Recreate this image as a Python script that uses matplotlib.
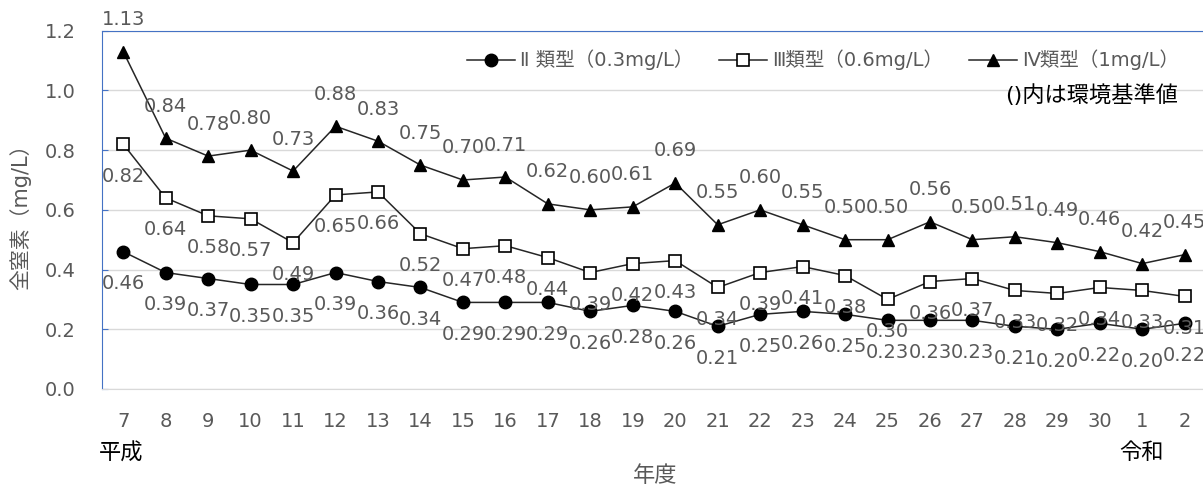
import matplotlib
matplotlib.use("Agg")
import matplotlib.pyplot as plt

# 年度 (平成7 ～ 令和2)
years = ["7", "8", "9", "10", "11", "12", "13", "14", "15", "16", "17", "18", "19",
         "20", "21", "22", "23", "24", "25", "26", "27", "28", "29", "30", "1", "2"]

# 全窒素 (mg/L)
type2 = [0.46, 0.39, 0.37, 0.35, 0.35, 0.39, 0.36, 0.34, 0.29, 0.29, 0.29, 0.26, 0.28,
         0.26, 0.21, 0.25, 0.26, 0.25, 0.23, 0.23, 0.23, 0.21, 0.20, 0.22, 0.20, 0.22]
type3 = [0.82, 0.64, 0.58, 0.57, 0.49, 0.65, 0.66, 0.52, 0.47, 0.48, 0.44, 0.39, 0.42,
         0.43, 0.34, 0.39, 0.41, 0.38, 0.30, 0.36, 0.37, 0.33, 0.32, 0.34, 0.33, 0.31]
type4 = [1.13, 0.84, 0.78, 0.80, 0.73, 0.88, 0.83, 0.75, 0.70, 0.71, 0.62, 0.60, 0.61,
         0.69, 0.55, 0.60, 0.55, 0.50, 0.50, 0.56, 0.50, 0.51, 0.49, 0.46, 0.42, 0.45]

names = ["Ⅱ 類型（0.3mg/L）", "Ⅲ類型（0.6mg/L）", "Ⅳ類型（1mg/L）"]
yticks = [0.0, 0.2, 0.4, 0.6, 0.8, 1.0, 1.2]

plt.rcParams['font.family'] = ['DejaVu Sans', 'Noto Sans CJK JP']

W, H = 1203, 490
fig = plt.figure(figsize=(W / 100, H / 100), dpi=100)
ax = fig.add_axes([102 / W, 1 - 389 / H, (1206 - 102) / W, (389 - 30.7) / H])

gray = "#595959"
blue = "#4472C4"
x = list(range(len(years)))

l2, = ax.plot(x, type2, color="#262626", lw=1.1, marker="o", ms=9,
              mfc="black", mec="black", zorder=3)
l3, = ax.plot(x, type3, color="#262626", lw=1.1, marker="s", ms=8,
              mfc="white", mec="black", mew=1.2, zorder=3)
l4, = ax.plot(x, type4, color="#262626", lw=1.1, marker="^", ms=9,
              mfc="black", mec="black", zorder=3)

# data labels: Ⅳ above, Ⅱ and Ⅲ below
for vals, dy in [(type2, -32), (type3, -32), (type4, 32)]:
    for i, v in enumerate(vals):
        ax.annotate(f"{v:.2f}", (i, v), xytext=(0, dy), textcoords="offset pixels",
                    ha="center", va="center", fontsize=14, color=gray,
                    annotation_clip=False)

ax.set_xlim(-0.5, len(years) - 0.5)
ax.set_ylim(0, 1.2)
ax.set_xticks(x)
ax.set_xticklabels(years)
ax.set_yticks(yticks)
ax.set_yticklabels([f"{t:.1f}" for t in yticks])
ax.tick_params(axis="x", length=0, pad=16.5, labelsize=14, labelcolor=gray)
ax.tick_params(axis="y", length=4, direction="in", color=blue, pad=19,
               labelsize=14, labelcolor=gray)
ax.grid(axis="y", color="#D9D9D9", lw=1)
ax.set_axisbelow(True)

ax.spines["right"].set_visible(False)
ax.spines["left"].set_color(blue)
ax.spines["top"].set_color(blue)
ax.spines["bottom"].set_color("#D9D9D9")

leg = ax.legend([l2, l3, l4], names, ncol=3, frameon=False, fontsize=14,
                loc="center right", bbox_to_anchor=(1179 / W, 1 - 60 / H),
                bbox_transform=fig.transFigure, borderpad=0, borderaxespad=0,
                handlelength=2.47, handletextpad=0.26, columnspacing=1.33,
                labelcolor=gray)

fig.text(1178 / W, 1 - 95 / H, "()内は環境基準値", ha="right", va="center",
         fontsize=16, color="black")
fig.text(20 / W, 1 - 212 / H, "全窒素（mg/L）", rotation=90, ha="center",
         va="center", fontsize=15, color=gray)
fig.text(121 / W, 1 - 453 / H, "平成", ha="center", va="center", fontsize=16)
fig.text(1142 / W, 1 - 453 / H, "令和", ha="center", va="center", fontsize=16)
fig.text(655 / W, 1 - 476 / H, "年度", ha="center", va="center", fontsize=16,
         color=gray)

fig.savefig("out.png", dpi=100)
